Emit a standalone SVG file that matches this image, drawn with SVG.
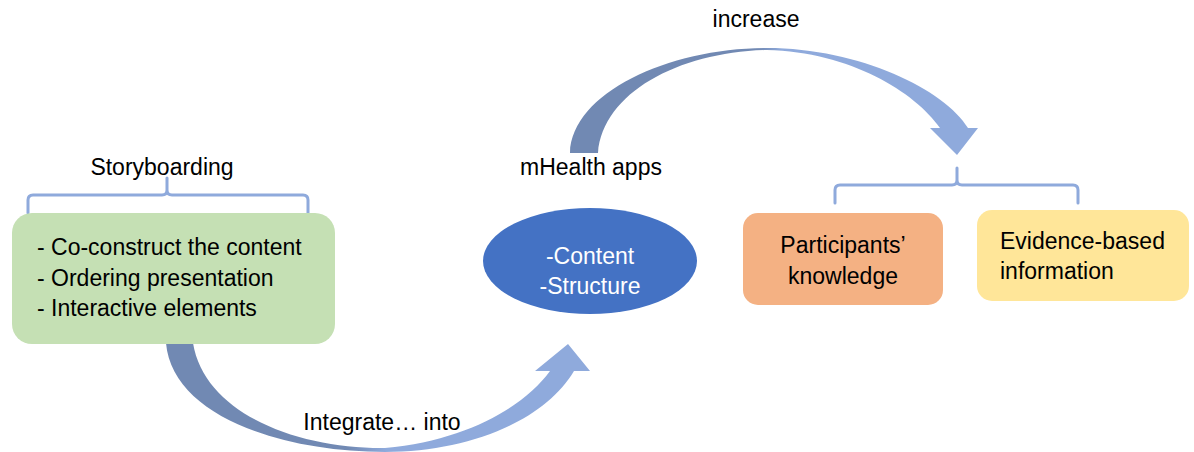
<svg xmlns="http://www.w3.org/2000/svg" width="1194" height="452" viewBox="0 0 1194 452">
<style>
text{font-family:"Liberation Sans",Arial,sans-serif;font-size:23px;fill:#000}
.w{fill:#fff}
.br{fill:none;stroke:#8faadc;stroke-width:3;stroke-linejoin:round;stroke-linecap:round}
</style>
<defs>
<linearGradient id="gTop" gradientUnits="userSpaceOnUse" x1="570" y1="0" x2="978" y2="0">
<stop offset="0" stop-color="#7189b3"/>
<stop offset="0.46" stop-color="#7189b3"/>
<stop offset="0.52" stop-color="#8faadc"/>
<stop offset="1" stop-color="#8faadc"/>
</linearGradient>
<linearGradient id="gBot" gradientUnits="userSpaceOnUse" x1="166" y1="0" x2="589" y2="0">
<stop offset="0" stop-color="#7189b3"/>
<stop offset="0.43" stop-color="#7189b3"/>
<stop offset="0.52" stop-color="#8faadc"/>
<stop offset="1" stop-color="#8faadc"/>
</linearGradient>
</defs>
<rect width="1194" height="452" fill="#fff"/>
<g id="connectors">
<path d="M166,343 C172,415 280,452 385,452 C470,452 545,420 574,371 L590,371 L568,344 L535,371 L550,371 C525,405 470,440 385,448 C300,449 205,415 193,343 Z" fill="url(#gBot)"/>
<path d="M570,153 C572,92 670,48 767,48 C860,48 945,90 968,128 L978,128 L957,155 L930,128 L940,128 C915,92 850,52 767,50 C680,52 603,92 598,153 Z" fill="url(#gTop)"/>
<text x="382" y="430" text-anchor="middle">Integrate… into</text>
<text x="756" y="27" text-anchor="middle">increase</text>
<text x="591" y="175" text-anchor="middle">mHealth apps</text>
</g>
<g id="storyboarding">
<path class="br" d="M28,213 V200 Q28,195 33,195 H162 Q167,195 167,190 V178 V190 Q167,195 172,195 H303 Q308,195 308,200 V213"/>
<text x="162" y="175" text-anchor="middle">Storyboarding</text>
<rect x="12" y="213" width="323" height="131" rx="20" fill="#c5e0b4"/>
<text x="37" y="255">- Co-construct the content</text>
<text x="37" y="286">- Ordering presentation</text>
<text x="37" y="316">- Interactive elements</text>
</g>
<g id="content">
<ellipse cx="590" cy="261" rx="107" ry="53" fill="#4472c4"/>
<text class="w" x="590" y="264" text-anchor="middle">-Content</text>
<text class="w" x="590" y="294" text-anchor="middle">-Structure</text>
</g>
<g id="outcomes-bracket">
<path class="br" d="M835,203 V190 Q835,185 840,185 H952 Q957,185 957,180 V168 V180 Q957,185 962,185 H1073 Q1078,185 1078,190 V203"/>
</g>
<g id="knowledge">
<rect x="743" y="213" width="200" height="92" rx="15" fill="#f4b183"/>
<text x="843" y="253" text-anchor="middle">Participants’</text>
<text x="843" y="284" text-anchor="middle">knowledge</text>
</g>
<g id="evidence">
<rect x="977" y="210" width="212" height="91" rx="15" fill="#ffe699"/>
<text x="1000" y="249">Evidence-based</text>
<text x="1000" y="279">information</text>
</g>
</svg>
